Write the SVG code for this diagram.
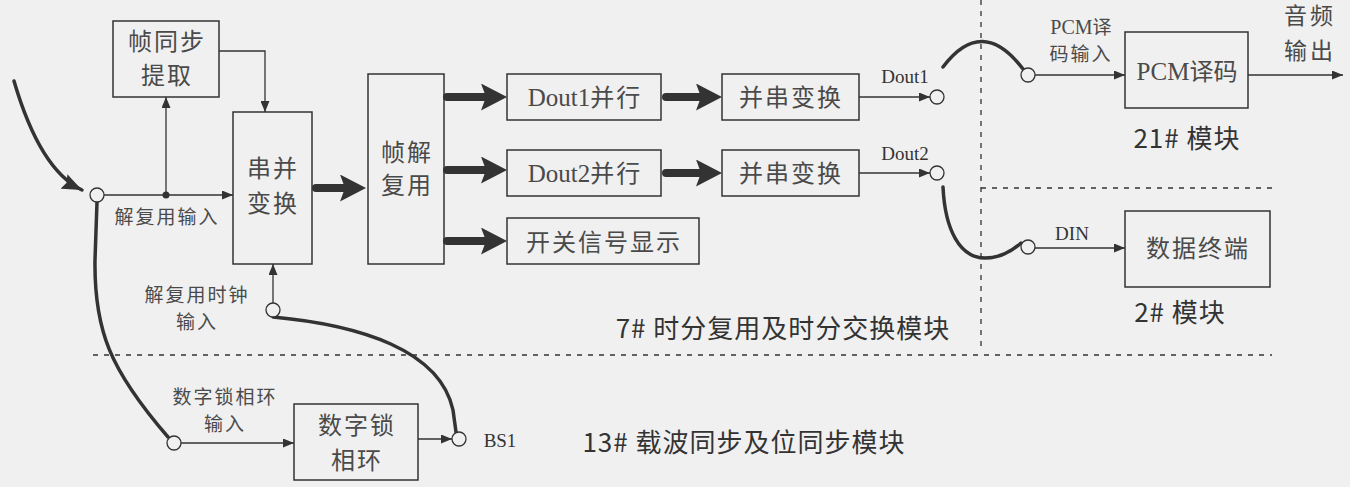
<svg xmlns="http://www.w3.org/2000/svg" width="1350" height="487" viewBox="0 0 1350 487">
<style>
.bg{fill:#f0f0f0}
.box{fill:none;stroke:#333;stroke-width:1.5}
.t{font-family:"Liberation Serif","Noto Sans CJK SC",serif;fill:#4a4a4a;text-anchor:middle}
.bt{font-size:24px;letter-spacing:2px}
.st{font-size:19px;letter-spacing:2px}
.ls{letter-spacing:2px}
.lt{font-family:"Liberation Serif","Noto Sans CJK SC",serif;font-size:19px;fill:#333;text-anchor:middle}
.mt{font-family:"Noto Sans CJK SC","Noto Sans",sans-serif;font-size:26px;letter-spacing:1px;fill:#333;text-anchor:middle}
.thin{fill:none;stroke:#333;stroke-width:1.3}
.thick{fill:none;stroke:#333;stroke-width:8;stroke-linecap:round}
.curve{fill:none;stroke:#333;stroke-width:3.5;stroke-linecap:round}
.dash{fill:none;stroke:#333;stroke-width:1.3;stroke-dasharray:5 6}
.port{fill:#f0f0f0;stroke:#333;stroke-width:1.3}
</style>
<defs>
<marker id="a" markerUnits="userSpaceOnUse" markerWidth="11" markerHeight="9" refX="11" refY="4.5" orient="auto"><path d="M0,0 L11,4.5 L0,9 Z" fill="#333"/></marker>
<marker id="big" markerUnits="userSpaceOnUse" markerWidth="26" markerHeight="27" refX="6" refY="13.5" orient="auto"><path d="M0,0 L26,13.5 L0,27 L5,13.5 Z" fill="#333"/></marker>
<marker id="ca" markerUnits="userSpaceOnUse" markerWidth="20" markerHeight="16" refX="20" refY="8" orient="auto"><path d="M0,0 L20,8 L0,16 L3,8 Z" fill="#333"/></marker>
</defs>
<rect class="bg" x="0" y="0" width="1350" height="487"/>

<g id="regions">
<line class="dash" x1="981" y1="0" x2="981" y2="352"/>
<line class="dash" x1="981" y1="188" x2="1272" y2="188"/>
<line class="dash" x1="93" y1="355" x2="1272" y2="355"/>
</g>

<g id="connectors">
<path class="curve" d="M14,81 Q40,170 82,190" marker-end="url(#ca)"/>
<line class="thin" x1="104" y1="195" x2="233" y2="195" marker-end="url(#a)"/>
<circle cx="166" cy="195" r="3.5" fill="#333"/>
<line class="thin" x1="166" y1="195" x2="166" y2="97" marker-end="url(#a)"/>
<polyline class="thin" points="219,51 265,51 265,112" marker-end="url(#a)"/>
<line class="thin" x1="273" y1="303" x2="273" y2="264" marker-end="url(#a)"/>
<path class="curve" d="M97,202 L95,260 C94,330 110,370 168,437"/>
<path class="curve" d="M273,317 C360,325 440,350 453,410 L456,432"/>
<line class="thin" x1="181" y1="443" x2="294" y2="443" marker-end="url(#a)"/>
<line class="thin" x1="418" y1="439" x2="452" y2="439" marker-end="url(#a)"/>
<line class="thick" x1="316" y1="188" x2="346" y2="188" marker-end="url(#big)"/>
<line class="thick" x1="447" y1="97" x2="487" y2="97" marker-end="url(#big)"/>
<line class="thick" x1="447" y1="170" x2="487" y2="170" marker-end="url(#big)"/>
<line class="thick" x1="447" y1="241" x2="487" y2="241" marker-end="url(#big)"/>
<line class="thick" x1="666" y1="97" x2="702" y2="97" marker-end="url(#big)"/>
<line class="thick" x1="666" y1="173" x2="702" y2="173" marker-end="url(#big)"/>
<line class="thin" x1="859" y1="97" x2="930" y2="97" marker-end="url(#a)"/>
<line class="thin" x1="859" y1="173" x2="930" y2="173" marker-end="url(#a)"/>
<path class="curve" d="M943,67 Q982,15 1023,69"/>
<path class="curve" d="M943,187 C945,230 960,258 985,258 C1000,258 1012,251 1021,243"/>
<line class="thin" x1="1035" y1="75" x2="1125" y2="75" marker-end="url(#a)"/>
<line class="thin" x1="1248" y1="75" x2="1343" y2="75" marker-end="url(#a)"/>
<line class="thin" x1="1035" y1="248" x2="1125" y2="248" marker-end="url(#a)"/>
</g>

<g id="ports">
<circle class="port" cx="97" cy="195" r="7"/>
<circle class="port" cx="273" cy="310" r="7"/>
<circle class="port" cx="174" cy="443" r="7"/>
<circle class="port" cx="459" cy="439" r="7"/>
<circle class="port" cx="937" cy="97" r="7"/>
<circle class="port" cx="937" cy="173" r="7"/>
<circle class="port" cx="1028" cy="75" r="7"/>
<circle class="port" cx="1028" cy="247" r="7"/>
</g>

<g id="frame-sync">
<rect class="box" x="113" y="21" width="106" height="76"/>
<text class="t bt" x="167" y="50">帧同步</text>
<text class="t bt" x="167" y="84">提取</text>
</g>
<g id="sp-convert">
<rect class="box" x="233" y="112" width="79" height="152"/>
<text class="t bt" x="273" y="177">串并</text>
<text class="t bt" x="273" y="212">变换</text>
</g>
<g id="frame-demux">
<rect class="box" x="368" y="74" width="76" height="190"/>
<text class="t bt" x="407" y="161">帧解</text>
<text class="t bt" x="407" y="194">复用</text>
</g>
<g id="dout1-par">
<rect class="box" x="507" y="74" width="154" height="46"/>
<text class="t" x="585" y="106" style="font-size:25px">Dout1<tspan class="ls" style="font-size:24px">并行</tspan></text>
</g>
<g id="dout2-par">
<rect class="box" x="507" y="150" width="154" height="46"/>
<text class="t" x="585" y="182" style="font-size:25px">Dout2<tspan class="ls" style="font-size:24px">并行</tspan></text>
</g>
<g id="switch-display">
<rect class="box" x="507" y="218" width="192" height="46"/>
<text class="t bt" x="604" y="251">开关信号显示</text>
</g>
<g id="ps-convert1">
<rect class="box" x="722" y="74" width="137" height="46"/>
<text class="t bt" x="791" y="106">并串变换</text>
</g>
<g id="ps-convert2">
<rect class="box" x="722" y="150" width="137" height="46"/>
<text class="t bt" x="791" y="182">并串变换</text>
</g>
<g id="pcm-decode">
<rect class="box" x="1125" y="32" width="123" height="76"/>
<text class="t" x="1187" y="80" style="font-size:25px">PCM<tspan style="font-size:24px">译码</tspan></text>
</g>
<g id="data-terminal">
<rect class="box" x="1125" y="211" width="145" height="76"/>
<text class="t bt" x="1198" y="257">数据终端</text>
</g>
<g id="dpll">
<rect class="box" x="294" y="404" width="124" height="76"/>
<text class="t bt" x="357" y="434">数字锁</text>
<text class="t bt" x="357" y="469">相环</text>
</g>

<g id="labels">
<text class="t st" x="167" y="224">解复用输入</text>
<text class="t st" x="197" y="302">解复用时钟</text>
<text class="t st" x="197" y="329">输入</text>
<text class="t st" x="225" y="404">数字锁相环</text>
<text class="t st" x="225" y="431">输入</text>
<text class="lt" x="500" y="447">BS1</text>
<text class="lt" x="905" y="83">Dout1</text>
<text class="lt" x="905" y="160">Dout2</text>
<text class="t" x="1081" y="34" style="font-size:20px">PCM<tspan style="font-size:19px">译</tspan></text>
<text class="t st" x="1081" y="61">码输入</text>
<text class="lt" x="1072" y="240">DIN</text>
<text class="t" x="1310" y="24" style="font-size:23px;letter-spacing:3px">音频</text>
<text class="t" x="1310" y="59" style="font-size:23px;letter-spacing:3px">输出</text>
<text class="mt" x="1187" y="148">21# 模块</text>
<text class="mt" x="1180" y="322">2# 模块</text>
<text class="mt" x="783" y="338">7# 时分复用及时分交换模块</text>
<text class="mt" x="744" y="452">13# 载波同步及位同步模块</text>
</g>
</svg>
